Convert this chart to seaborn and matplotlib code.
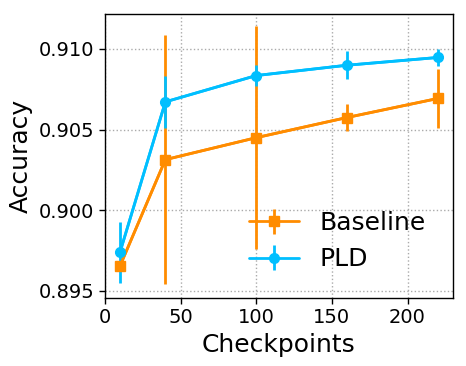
import matplotlib
matplotlib.use("Agg")
import matplotlib.pyplot as plt
import seaborn as sns
import pandas as pd

checkpoints = [10, 40, 100, 160, 220]
baseline_acc = [0.89655, 0.90314, 0.9045, 0.90575, 0.90693]
baseline_err = [0.0003, 0.0077, 0.0069, 0.00085, 0.0018]
pld_acc = [0.8974, 0.90672, 0.90835, 0.90899, 0.90947]
pld_err = [0.0019, 0.0016, 0.00065, 0.00088, 0.0005]
series_names = ["Baseline", "PLD"]

sns.set_style("ticks")
plt.rcParams['font.family'] = ['DejaVu Sans']
plt.rcParams['text.color'] = 'black'
plt.rcParams['axes.labelcolor'] = 'black'
plt.rcParams['xtick.color'] = 'black'
plt.rcParams['ytick.color'] = 'black'

fig = plt.figure(figsize=(4.66, 3.66), dpi=100)
ax = fig.add_axes([0.225, 0.186, 0.747, 0.776])

df = pd.DataFrame({
    "Checkpoints": checkpoints * 2,
    "Accuracy": baseline_acc + pld_acc,
    "Series": [series_names[0]] * 5 + [series_names[1]] * 5,
})
palette = {"Baseline": "#FF8C00", "PLD": "#00BFFF"}
sns.lineplot(data=df, x="Checkpoints", y="Accuracy", hue="Series",
             palette=palette, linewidth=2, legend=False, ax=ax)

ax.errorbar(checkpoints, baseline_acc, yerr=baseline_err, color="#FF8C00",
            marker="s", markersize=7, linewidth=2, elinewidth=2, capsize=0,
            label="Baseline", zorder=3)
ax.errorbar(checkpoints, pld_acc, yerr=pld_err, color="#00BFFF",
            marker="o", markersize=7, linewidth=2, elinewidth=2, capsize=0,
            label="PLD", zorder=3)

ax.set_xlim(0, 230)
ax.set_ylim(0.89457, 0.91217)
ax.set_xticks([0, 50, 100, 150, 200])
ax.set_yticks([0.895, 0.900, 0.905, 0.910])
ax.set_yticklabels(["0.895", "0.900", "0.905", "0.910"])
ax.tick_params(labelsize=14, direction="out", length=4, width=1,
               colors="black", labelcolor="black")
ax.grid(True, linestyle=":", color="#aaaaaa", linewidth=1)
for s in ax.spines.values():
    s.set_color("black")
    s.set_linewidth(1)
ax.set_xlabel("Checkpoints", fontsize=18, color="black")
ax.set_ylabel("Accuracy", fontsize=18, color="black")
leg = ax.legend(loc="lower right", fontsize=18, frameon=False,
                bbox_to_anchor=(0.986, 0.014), handlelength=2.0)
for t in leg.get_texts():
    t.set_color("black")

fig.savefig("out.png", dpi=100)
